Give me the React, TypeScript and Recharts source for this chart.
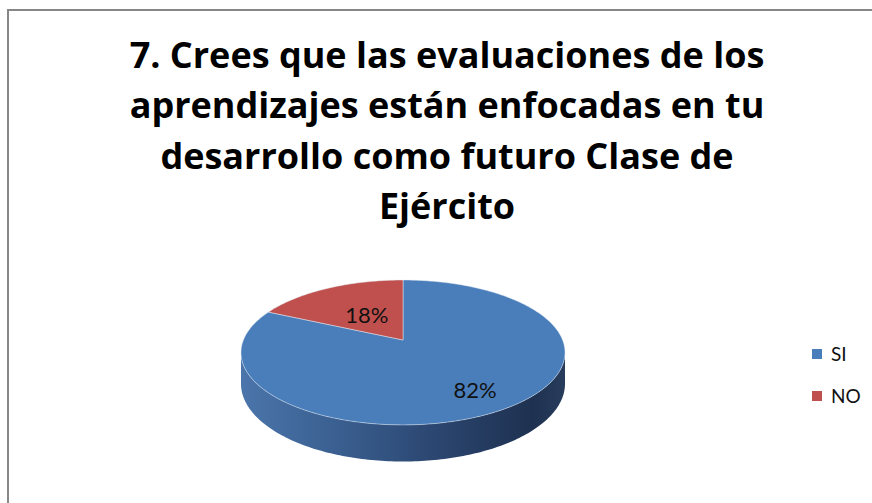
import React from 'react';
import { PieChart, Pie, Cell, Legend } from 'recharts';

const categories = ['SI', 'NO'];
const values = [82, 18];
const titleLines = [
  '7. Crees que las evaluaciones de los',
  'aprendizajes están enfocadas en tu',
  'desarrollo como futuro Clase de',
  'Ejército',
];
const colors = ['#4a7ebb', '#c0504d'];

const data = categories.map((name, i) => ({ name, value: values[i] }));

const K = 0.172; // perspective factor
const SY = 0.4405; // vertical squash
const DEPTH = 0.19; // side height relative to radius
const LABEL_R = [0.75, 0.45];

function proj(cx: number, cy: number, R: number, a: number, r = 1, drop = 0): [number, number] {
  const rad = (a * Math.PI) / 180;
  const X = r * Math.cos(rad);
  const Y = r * Math.sin(rad);
  const den = 1 + K * Y;
  return [cx + (R * X) / den, cy - (R * SY * Y) / den + (R * DEPTH * drop) / den];
}

function arcPoints(cx: number, cy: number, R: number, a0: number, a1: number, drop = 0) {
  const n = Math.max(2, Math.ceil(Math.abs(a1 - a0)));
  const pts: [number, number][] = [];
  for (let i = 0; i <= n; i++) {
    const a = a0 + ((a1 - a0) * i) / n;
    pts.push(proj(cx, cy, R, a, 1, drop));
  }
  return pts;
}

const Slice3D = (props: any) => {
  const { cx, cy, outerRadius, startAngle, endAngle, fill } = props;
  const R = outerRadius;
  const lo = Math.min(startAngle, endAngle);
  const hi = Math.max(startAngle, endAngle);
  const edge = (Math.asin(K) * 180) / Math.PI;
  const fL = -180 + edge;
  const fR = -edge;
  const sides: string[] = [];
  for (const shift of [-360, 0, 360]) {
    const a = Math.max(lo, fL + shift);
    const b = Math.min(hi, fR + shift);
    if (b > a) {
      const top = arcPoints(cx, cy, R, a, b, 0);
      const bot = arcPoints(cx, cy, R, b, a, 1);
      const all = [...top, ...bot];
      sides.push('M' + all.map((p) => p[0].toFixed(2) + ',' + p[1].toFixed(2)).join('L') + 'Z');
    }
  }
  const topPts = arcPoints(cx, cy, R, startAngle, endAngle, 0);
  const apex = proj(cx, cy, R, 0, 0, 0);
  const topPath =
    'M' + apex[0].toFixed(2) + ',' + apex[1].toFixed(2) + 'L' +
    topPts.map((p) => p[0].toFixed(2) + ',' + p[1].toFixed(2)).join('L') + 'Z';
  return (
    <g>
      {sides.map((d, i) => (
        <path key={i} d={d} fill="url(#sideGrad)" stroke="none" />
      ))}
      <path d={topPath} fill={fill} stroke="#e4ecf5" strokeOpacity={0.6} strokeWidth={0.8} />
    </g>
  );
};

const renderLabel = (props: any) => {
  const { cx, cy, outerRadius, midAngle, percent, index } = props;
  const [x, y] = proj(cx, cy, outerRadius, midAngle, LABEL_R[index] ?? 0.6, 0);
  return (
    <text
      x={x}
      y={y}
      textAnchor="middle"
      dominantBaseline="central"
      fill="#111"
      style={{ fontFamily: 'Lato, sans-serif', fontSize: 22 }}
    >
      {`${Math.round(percent * 100)}%`}
    </text>
  );
};

const renderLegend = () => {
  return (
    <div style={{ fontFamily: 'Lato, sans-serif', fontSize: 19, color: '#111' }}>
      {categories.map((name, i) => (
        <div key={name} style={{ display: 'flex', alignItems: 'center', height: 21, marginBottom: 21 }}>
          <span
            style={{
              display: 'inline-block',
              width: 10,
              height: 10,
              background: colors[i],
              marginRight: 9,
            }}
          />
          <span>{name}</span>
        </div>
      ))}
    </div>
  );
};

export default function App() {
  return (
    <div style={{ position: 'absolute', left: 0, top: 0, width: 872, height: 503, background: '#fff' }}>
      <PieChart width={872} height={503} margin={{ top: 0, right: 0, bottom: 0, left: 0 }}>
        <defs>
          <linearGradient id="sideGrad" x1="241" y1="0" x2="565" y2="0" gradientUnits="userSpaceOnUse">
            <stop offset="0" stopColor="#4b75ab" />
            <stop offset="0.3" stopColor="#3a5f90" />
            <stop offset="0.6" stopColor="#2b4670" />
            <stop offset="0.9" stopColor="#1e3150" />
            <stop offset="1" stopColor="#283c5c" />
          </linearGradient>
        </defs>
        <rect x={8} y={10} width={880} height={520} fill="none" stroke="#878787" strokeWidth={2} />
        {titleLines.map((line, i) => (
          <text
            key={i}
            x={447}
            y={68 + i * 50.3}
            textAnchor="middle"
            fill="#000"
            style={{ fontFamily: '"Open Sans", sans-serif', fontSize: 36, fontWeight: 700 }}
          >
            {line}
          </text>
        ))}
        <Pie
          data={data}
          dataKey="value"
          nameKey="name"
          cx={403}
          cy={340}
          outerRadius={159.6}
          startAngle={90}
          endAngle={-270}
          stroke="none"
          isAnimationActive={false}
          shape={Slice3D}
          label={renderLabel}
          labelLine={false}
        >
          {data.map((d, i) => (
            <Cell key={d.name} fill={colors[i]} />
          ))}
        </Pie>
        <Legend
          layout="vertical"
          align="right"
          verticalAlign="top"
          content={renderLegend}
          wrapperStyle={{ left: 812, top: 343, width: 60 }}
        />
      </PieChart>
    </div>
  );
}
